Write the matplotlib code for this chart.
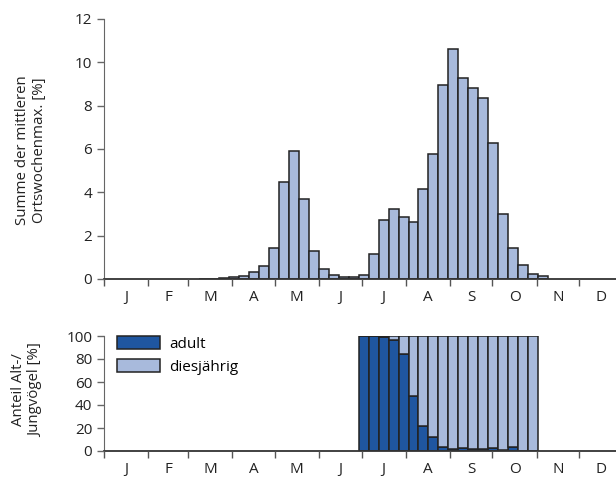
import matplotlib
matplotlib.use("Agg")
import matplotlib.pyplot as plt
import numpy as np
from matplotlib.patches import Patch

plt.rcParams['font.family'] = ['Open Sans', 'DejaVu Sans']

# month boundaries (day of year) and labels
month_starts = [0, 31, 59, 90, 120, 151, 181, 212, 243, 273, 304, 334, 365]
month_labels = ["J", "F", "M", "A", "M", "J", "J", "A", "S", "O", "N", "D"]

# weekly bins: week k covers day 4+7k .. 11+7k
week_first = 9
top_values = [0.01, 0.02, 0.04, 0.09, 0.15, 0.31, 0.61, 1.41, 4.49, 5.93, 3.69, 1.29,
              0.47, 0.2, 0.08, 0.1, 0.19, 1.14, 2.72, 3.24, 2.84, 2.64, 4.17, 5.75,
              8.95, 10.6, 9.28, 8.83, 8.37, 6.3, 2.99, 1.41, 0.63, 0.22, 0.15]

share_first = 25
adult = [100, 99.6, 98.8, 96.5, 84.6, 47.7, 21.5, 12.2, 3.5, 1.5, 2.3, 1.5, 2.0,
         2.9, 0.6, 3.8, 0, 0]

light = '#a8badc'
dark = '#1f56a0'
edge = '#222222'

fig = plt.figure(figsize=(6.16, 4.8), dpi=100)
ax1 = fig.add_axes([104/616, 1-279/480, 519.4/616, 260/480])
ax2 = fig.add_axes([104/616, 1-451/480, 519.4/616, 115/480])

x_top = [4 + 7*(week_first + i) for i in range(len(top_values))]
ax1.bar(x_top, top_values, width=7, align='edge', color=light, edgecolor=edge, linewidth=1.1)

x_share = [4 + 7*(share_first + i) for i in range(len(adult))]
juv = [100 - a for a in adult]
ax2.bar(x_share, adult, width=7, align='edge', color=dark, edgecolor=edge, linewidth=1.1, label='adult')
ax2.bar(x_share, juv, bottom=adult, width=7, align='edge', color=light, edgecolor=edge,
        linewidth=1.1, label='diesjährig')

mids = [(month_starts[i] + month_starts[i+1]) / 2 for i in range(12)]
for ax, ymax, yt in [(ax1, 12, range(0, 13, 2)), (ax2, 100, range(0, 101, 20))]:
    ax.set_xlim(0, 365)
    ax.set_ylim(0, ymax)
    ax.set_yticks(list(yt))
    ax.spines['top'].set_visible(False)
    ax.spines['right'].set_visible(False)
    ax.spines['left'].set_color('#666666')
    ax.spines['bottom'].set_color('#333333')
    ax.spines['bottom'].set_linewidth(1.3)
    ax.set_xticks(month_starts[:-1])
    ax.set_xticklabels([])
    ax.set_xticks(mids, minor=True)
    ax.set_xticklabels(month_labels, minor=True)
    ax.tick_params(axis='x', which='major', length=5, color='#555555', width=1)
    ax.tick_params(axis='x', which='minor', length=0, pad=8, labelsize=11, labelcolor='#222222')
    ax.tick_params(axis='y', length=5, color='#666666', width=1, labelsize=11, labelcolor='#222222')
    ax.set_axisbelow(False)

fig.text(31/616, 1-150/480, "Summe der mittleren\nOrtswochenmax. [%]", rotation=90,
         ha='center', va='center', multialignment='center', fontsize=10.8, color='#222222')
fig.text(27/616, 1-390/480, "Anteil Alt-/\nJungvögel [%]", rotation=90,
         ha='center', va='center', multialignment='center', fontsize=10.8, color='#222222')

handles = [Patch(facecolor=dark, edgecolor=edge, linewidth=1.1, label='adult'),
           Patch(facecolor=light, edgecolor=edge, linewidth=1.1, label='diesjährig')]
ax2.legend(handles=handles, loc='upper left', bbox_to_anchor=(0.008, 1.08), frameon=False,
           fontsize=11, handlelength=2.8, handleheight=0.95, handletextpad=0.6,
           labelspacing=0.45, borderaxespad=0.2)

fig.savefig("out.png", dpi=100)
